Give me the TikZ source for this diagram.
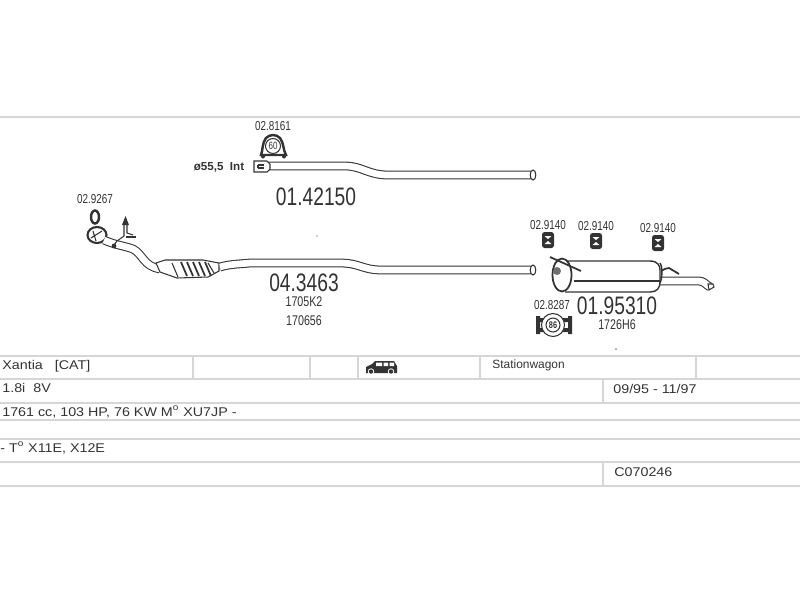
\documentclass[tikz,border=0pt]{standalone}
\usepackage{fontspec}
\setmainfont{Liberation Sans}
\newfontfamily\tablefont[FakeStretch=1.13]{Liberation Sans}
\newfontfamily\partfont[FakeStretch=0.76]{Liberation Sans}
\definecolor{rulegray}{HTML}{D6D6D6}
\definecolor{inkgray}{HTML}{333333}
\tikzset{
    rowline/.style={rulegray,line width=1pt},
    pipe/.style={inkgray,line width=0.6pt,double=white,double distance=3.8pt},
    part/.style={inkgray,line width=0.6pt},
    tabletext/.style={anchor=base west,inner sep=0pt,text=inkgray,font=\tablefont\fontsize{7.2}{8}\selectfont},
    partno/.style={inner sep=0pt,text=inkgray,font=\partfont\fontsize{7.4}{8}\selectfont},
    bignumber/.style={inner sep=0pt,text=inkgray,font=\partfont\fontsize{14.4}{16}\selectfont},
    subnumber/.style={inner sep=0pt,text=inkgray,font=\partfont\fontsize{8}{9}\selectfont},
}
\begin{document}
\begin{tikzpicture}[x=0.02cm,y=-0.02cm]
    \useasboundingbox (0,0) rectangle (800,600);
    % table rules
    \foreach \y in {117,356,379,403,420,439,462,486}
        \draw[rowline] (0,\y) -- (800,\y);
    \foreach \x in {193,310,358,480,696}
        \draw[rowline] (\x,356) -- (\x,379);
    \draw[rowline] (603,379) -- (603,403);
    \draw[rowline] (603,462) -- (603,486);
    % table text
    \node[tabletext] (model) at (2,369) {Xantia\ \ \ [CAT]};
    \node[tabletext] (body) at (492,368) {\rmfamily\fontsize{6.8}{8}\selectfont Stationwagon};
    \node[tabletext] (engine) at (2,392) {1.8i\ \ 8V};
    \node[tabletext] (years) at (613,393) {09/95 - 11/97};
    \node[tabletext] (power) at (2,416) {1761 cc, 103 HP, 76 KW M\textsuperscript{o} XU7JP -};
    \node[tabletext] (types) at (0,452) {- T\textsuperscript{o} X11E, X12E};
    \node[tabletext] (code) at (614,476) {C070246};
    % van
    \fill[inkgray] (366,373) -- (366,367) -- (372,364) -- (375,361) -- (394,361) -- (397,366) -- (397,373) -- cycle;
    \fill[white] (376,362.5) rectangle (382,366) (383.5,362.5) rectangle (388,366) (389.5,362.5) rectangle (394,366);
    \fill[white] (371,371.5) circle (3.2) (391,371.5) circle (3.2);
    \fill[inkgray] (371,371.5) circle (2.2) (391,371.5) circle (2.2);
    % upper pipe
    \draw[pipe] (268,166) -- (345,166) .. controls (362,166) and (368,175) .. (388,175) -- (531,175);
    \draw[part,fill=white] (254,161) -- (267,161) -- (270,164) -- (270,169) -- (267,172) -- (254,172) -- cycle;
    \draw[part] (258,165) -- (264,165) (258,168) -- (264,168) (258,165) -- (258,168);
    \draw[part,fill=white] (533,175) ellipse (2.8 and 5);
    \node[partno] (clampa) at (273,126) {02.8161};
    \draw[part,line width=1.4pt,fill=white] (261,155) .. controls (263,150) and (262,143) .. (266,138) .. controls (270,134) and (276,134) .. (280,138) .. controls (284,143) and (283,150) .. (286,155) -- cycle;
    \draw[part,fill=white] (273,146) circle (7.5);
    \node[inner sep=0pt,text=inkgray,font=\partfont\fontsize{6}{6}\selectfont] (clampasize) at (273,146) {60};
    \fill[inkgray] (263,156.5) circle (2) (284,156.5) circle (2);
    \node[inner sep=0pt,text=inkgray,font=\bfseries\fontsize{6.6}{8}\selectfont] (diam) at (219,167) {ø55,5\ \ Int};
    \node[bignumber] (pipeno) at (316,197) {01.42150};
    % lower pipe with catalyst
    \node[partno] (ringno) at (95,199) {02.9267};
    \draw[inkgray,line width=1.4pt] (95,217) ellipse (4 and 6.5);
    \draw[inkgray,line width=1.2pt,fill=white] (97,235) ellipse (9.5 and 8);
    \draw[part] (91,238) -- (102,231) (93,231) -- (96,241);
    \draw[pipe] (104,240) .. controls (115,245) and (125,246) .. (133,249) .. controls (143,254) and (143,266) .. (160,269);
    \draw[part,fill=white] (156,263) -- (165,260) -- (203,260) -- (219,263) -- (219,271) -- (208,277) -- (177,278) -- (160,272) -- cycle;
    \foreach \x in {181,187,193,199,205}
        \draw[part,line width=1pt] (\x,262) -- (\x+6,276);
    \draw[part] (172,263) -- (178,277) (208,263) -- (214,273);
    \draw[pipe] (220,267) .. controls (230,264) and (240,264) .. (250,263) -- (340,263) .. controls (360,263) and (362,270) .. (382,270) -- (531,270);
    \draw[part,fill=white] (533,270) ellipse (2.8 and 5);
    % lambda sensor
    \draw[part] (114,245) -- (117,241) -- (124,236) -- (124,224);
    \draw[part] (127,224) -- (127,233) -- (133,235);
    \fill[inkgray] (122,225) -- (125.5,216) -- (129,225) -- cycle;
    \fill[inkgray] (126,236) rectangle (136,237.5);
    \fill[inkgray] (114,246) circle (2.4);
    \node[bignumber] (catno) at (304,282.5) {04.3463};
    \node[subnumber] (catsuba) at (304,301.5) {1705K2};
    \node[subnumber] (catsubb) at (304,321) {170656};
    % hangers
    \foreach \x/\y in {548/240,596/241,658/243}{
        \node[partno] at (\x,\y-15) {02.9140};
        \fill[inkgray,rounded corners=1.5pt] (\x-6,\y-8) rectangle (\x+6,\y+8);
        \fill[white] (\x-3.5,\y-4) -- (\x+3.5,\y-4) -- (\x,\y-1) -- cycle (\x-3.5,\y+4) -- (\x+3.5,\y+4) -- (\x,\y+1) -- cycle;
    }
    % rear silencer
    \draw[pipe] (655,281) -- (699,281) .. controls (704,281) and (706,285) .. (710,287);
    \draw[part,fill=white] (708,284) -- (713,284) -- (714,287) -- (709,290) -- cycle;
    \draw[part,line width=0.8pt,fill=white] (565,261) -- (650,261) .. controls (658,261) and (660,266) .. (660,270) -- (660,282) .. controls (660,288) and (657,292) .. (650,292) -- (565,292);
    \draw[part] (574,281) -- (660,281);
    \draw[part,line width=1pt,fill=white] (562,275) ellipse (9.5 and 16.5);
    \fill[inkgray!70] (557,271) circle (4);
    \draw[inkgray,line width=1pt] (550,257) -- (581,271);
    \draw[part,line width=0.8pt] (660,263) .. controls (663,267) and (662,280) .. (660,283);
    \draw[inkgray,line width=1pt] (661,271) .. controls (665,269) and (666,268) .. (669,268) -- (679,274);
    \node[bignumber] (silencerno) at (617,306) {01.95310};
    \node[subnumber] (silencersub) at (617,325) {1726H6};
    % silencer clamp
    \node[partno] (clampb) at (552,305) {02.8287};
    \fill[inkgray] (536,318) rectangle (571,322) (536,328) rectangle (571,332);
    \fill[inkgray] (536,316) rectangle (540,334) (568,316) rectangle (572,334);
    \draw[part,fill=white] (553,325) circle (11.5);
    \draw[part,fill=white] (553,325) circle (7);
    \node[inner sep=0pt,text=inkgray,font=\partfont\bfseries\fontsize{5.5}{6}\selectfont] (clampbsize) at (553,325) {86};
    % specks
    \fill[inkgray] (317,236) circle (0.7);
    \fill[inkgray!60] (616,349) circle (1);
\end{tikzpicture}
\end{document}
